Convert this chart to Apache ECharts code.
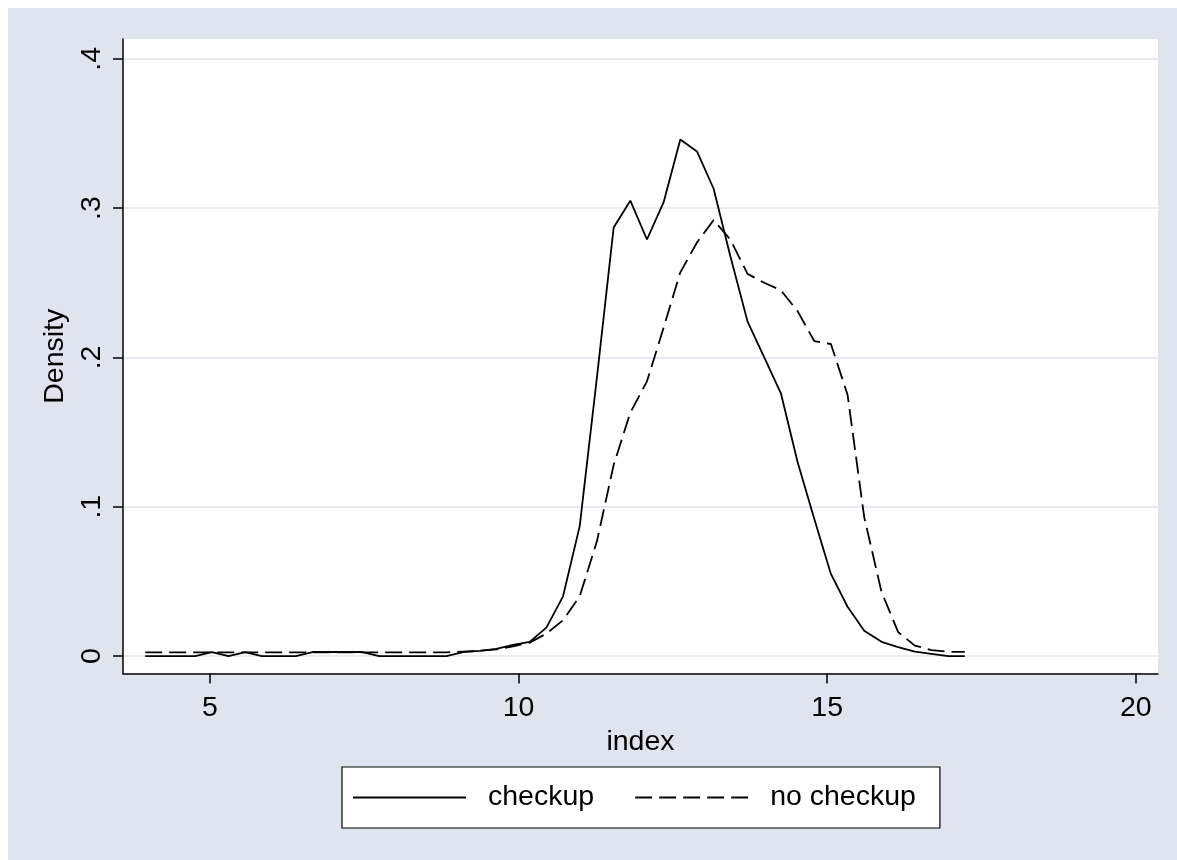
<!DOCTYPE html>
<html>
<head>
<meta charset="utf-8">
<script src="https://cdn.jsdelivr.net/npm/echarts@6/dist/echarts.min.js"></script>
<style>
  html, body { margin: 0; padding: 0; background: #ffffff; }
  #chart { position: absolute; left: 8px; top: 8px; width: 1169px; height: 852px; }
</style>
</head>
<body>
<div id="chart"></div>
<script>
// evaluation grid (index values)
const indexGrid = [3.95, 4.22, 4.49, 4.76, 5.03, 5.30, 5.57, 5.84, 6.12, 6.39,
  6.66, 6.93, 7.20, 7.47, 7.74, 8.01, 8.28, 8.56, 8.83, 9.10,
  9.37, 9.64, 9.91, 10.18, 10.45, 10.72, 10.99, 11.27, 11.54, 11.81,
  12.08, 12.35, 12.62, 12.89, 13.16, 13.43, 13.71, 13.98, 14.25, 14.52,
  14.79, 15.06, 15.33, 15.60, 15.88, 16.15, 16.42, 16.69, 16.96, 17.23];

const checkup = [0, 0, 0, 0, 0.0027, 0, 0.0027, 0, 0, 0,
  0.0027, 0.0027, 0.0027, 0.0027, 0, 0, 0, 0, 0, 0.0027,
  0.0035, 0.0048, 0.0075, 0.0095, 0.019, 0.040, 0.087, 0.187, 0.287, 0.305,
  0.279, 0.304, 0.346, 0.338, 0.313, 0.268, 0.224, 0.200, 0.176, 0.130,
  0.092, 0.055, 0.033, 0.017, 0.0095, 0.006, 0.003, 0.0015, 0, 0];

const noCheckup = [0.0025, 0.0025, 0.0025, 0.0025, 0.0025, 0.0025, 0.0025, 0.0025, 0.0025, 0.0025,
  0.0025, 0.0025, 0.0025, 0.0025, 0.0025, 0.0025, 0.0025, 0.0025, 0.0025, 0.003,
  0.0035, 0.0045, 0.0065, 0.009, 0.015, 0.024, 0.040, 0.077, 0.128, 0.163,
  0.184, 0.220, 0.257, 0.277, 0.292, 0.279, 0.256, 0.250, 0.245, 0.231,
  0.211, 0.209, 0.175, 0.093, 0.043, 0.016, 0.007, 0.004, 0.0028, 0.0028];

const xTicks = [5, 10, 15, 20];
const yTicks = [0, 0.1, 0.2, 0.3, 0.4];
const seriesNames = ['checkup', 'no checkup'];

const FONT = 'Liberation Sans, Arial, sans-serif';
const FS = 28.5;
const bg = '#dfe4ef';
const gridColor = '#dde3ef';

const chart = echarts.init(document.getElementById('chart'), null, { renderer: 'canvas' });
const zip = (xs, ys) => xs.map((x, i) => [x, ys[i]]);

chart.setOption({
  animation: false,
  backgroundColor: bg,
  grid: {
    left: 115, top: 31, width: 1035, height: 634.5,
    show: true, backgroundColor: '#ffffff', borderWidth: 0
  },
  xAxis: {
    type: 'value', min: 3.59, max: 20.36,
    name: 'index', nameLocation: 'middle', nameGap: 54,
    nameTextStyle: { fontFamily: FONT, fontSize: FS, color: '#000' },
    axisLine: { show: true, onZero: false, lineStyle: { color: '#000', width: 1.5 } },
    axisTick: { show: true, length: 10, lineStyle: { color: '#000', width: 1.5 }, customValues: xTicks },
    axisLabel: { fontFamily: FONT, fontSize: FS, color: '#000', margin: 20, customValues: xTicks },
    splitLine: { show: false }
  },
  yAxis: {
    type: 'value', min: -0.0117, max: 0.4133,
    name: 'Density', nameLocation: 'middle', nameGap: 51, nameRotate: 90,
    nameTextStyle: { fontFamily: FONT, fontSize: FS, color: '#000' },
    axisLine: { show: true, onZero: false, lineStyle: { color: '#000', width: 1.5 } },
    axisTick: { show: true, length: 10, lineStyle: { color: '#000', width: 1.5 }, customValues: yTicks },
    axisLabel: {
      fontFamily: FONT, fontSize: FS, color: '#000', margin: 16, rotate: 90,
      customValues: yTicks,
      formatter: v => (Math.abs(v) < 1e-9 ? '0' : String(+v.toFixed(1)).replace(/^0\./, '.'))
    },
    splitLine: { show: true, lineStyle: { color: gridColor, width: 1.5 } }
  },
  legend: {
    show: true,
    data: seriesNames,
    left: 334, top: 759,
    orient: 'horizontal',
    backgroundColor: '#ffffff',
    borderColor: '#000', borderWidth: 1.2, borderRadius: 0,
    padding: [16, 24, 16, 10],
    itemWidth: 113, itemHeight: 14, itemGap: 40,
    itemStyle: { opacity: 0 },
    textStyle: { fontFamily: FONT, fontSize: FS, color: '#000', padding: [0, 0, 0, 17] }
  },
  series: [
    {
      name: seriesNames[0], type: 'line', data: zip(indexGrid, checkup),
      showSymbol: false, symbol: 'none', smooth: false,
      lineStyle: { color: '#000', width: 1.8, type: 'solid' },
      itemStyle: { color: '#000' }
    },
    {
      name: seriesNames[1], type: 'line', data: zip(indexGrid, noCheckup),
      showSymbol: false, symbol: 'none', smooth: false,
      lineStyle: { color: '#000', width: 1.8, type: [17, 7] },
      itemStyle: { color: '#000' }
    }
  ]
});
</script>
</body>
</html>
